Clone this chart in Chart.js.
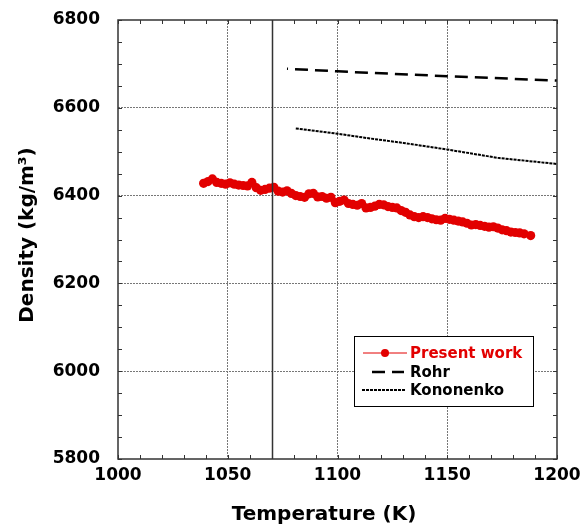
<!DOCTYPE html>
<html>
<head>
<meta charset="utf-8">
<script src="https://cdn.jsdelivr.net/npm/chart.js@4"></script>
<style>
  body { margin: 0; background: #fff; }
</style>
</head>
<body>
<canvas id="density-chart" width="582" height="530"></canvas>
<script>

// measured liquid density, K and kg/m3
const tempPresent = [1039, 1041, 1043, 1045, 1047, 1049, 1051, 1053, 1055, 1057,
                     1059, 1061, 1063, 1065, 1067, 1069, 1071, 1073, 1075, 1077,
                     1079, 1081, 1083, 1085, 1087, 1089, 1091, 1093, 1095, 1097,
                     1099, 1101, 1103, 1105, 1107, 1109, 1111, 1113, 1115, 1117,
                     1119, 1121, 1123, 1125, 1127, 1129, 1131, 1133, 1135, 1137,
                     1139, 1141, 1143, 1145, 1147, 1149, 1151, 1153, 1155, 1157,
                     1159, 1161, 1163, 1165, 1167, 1169, 1171, 1173, 1175, 1177,
                     1179, 1181, 1183, 1185, 1188];
const densPresent = [6428, 6432, 6438, 6430, 6428, 6426, 6429, 6426, 6424, 6423,
                     6422, 6430, 6418, 6412, 6414, 6417, 6419, 6410, 6408, 6411,
                     6405, 6400, 6398, 6396, 6404, 6405, 6397, 6398, 6394, 6396,
                     6384, 6387, 6390, 6382, 6380, 6378, 6382, 6372, 6373, 6376,
                     6380, 6379, 6375, 6373, 6372, 6366, 6362, 6356, 6352, 6350,
                     6352, 6350, 6347, 6345, 6344, 6348, 6346, 6344, 6342, 6340,
                     6337, 6333, 6334, 6332, 6330, 6328, 6329, 6326, 6322, 6320,
                     6317, 6316, 6315, 6313, 6309];

// literature curves
const tempRohr = [1077, 1100, 1150, 1200];
const densRohr = [6689, 6683, 6672, 6662];
const tempKono = [1081, 1100, 1115, 1130, 1150, 1173, 1200];
const densKono = [6553, 6541, 6530, 6520, 6505, 6486, 6472];

const xTickLabels = [1000, 1050, 1100, 1150, 1200];
const yTickLabels = [5800, 6000, 6200, 6400, 6600, 6800];
const meltLine = 1070;   // solid vertical marker

const FONT = "'DejaVu Sans', sans-serif";
const RED = "rgb(226, 0, 0)";

function pairs(xs, ys) {
  return xs.map((x, i) => ({ x: x, y: ys[i] }));
}

function gridColor(labels) {
  return ctx => {
    const v = ctx.tick && ctx.tick.value;
    if (labels.indexOf(v) < 0 || v === labels[0] || v === labels[labels.length - 1]) return "rgba(0,0,0,0)";
    return "#777";
  };
}

// keep the plot box fixed: no extra room for overhanging tick labels
function fixSize(prop, size) {
  return s => {
    s[prop] = size;
    s.paddingTop = s.paddingBottom = s.paddingLeft = s.paddingRight = 0;
  };
}

// frame, inward ticks, the 1070 K line, axis titles and the legend box
const decorPlugin = {
  id: "decor",
  afterDraw(chart) {
    const { ctx, chartArea: a, scales } = chart;
    const xs = scales.x, ys = scales.y;
    ctx.save();

    const lx = Math.round(xs.getPixelForValue(meltLine)) + 0.5;
    ctx.strokeStyle = "#333";
    ctx.lineWidth = 1.5;
    ctx.beginPath();
    ctx.moveTo(lx, a.top);
    ctx.lineTo(lx, a.bottom);
    ctx.stroke();

    ctx.strokeRect(a.left, a.top, a.right - a.left, a.bottom - a.top);

    ctx.lineWidth = 1;
    ctx.beginPath();
    xs.ticks.forEach(t => {
      const px = Math.round(xs.getPixelForValue(t.value)) + 0.5;
      ctx.moveTo(px, a.bottom); ctx.lineTo(px, a.bottom - 4);
      ctx.moveTo(px, a.top); ctx.lineTo(px, a.top + 4);
    });
    ys.ticks.forEach(t => {
      const py = Math.round(ys.getPixelForValue(t.value)) + 0.5;
      ctx.moveTo(a.left, py); ctx.lineTo(a.left + 4, py);
      ctx.moveTo(a.right, py); ctx.lineTo(a.right - 4, py);
    });
    ctx.stroke();

    // axis titles
    ctx.fillStyle = "#000";
    ctx.font = "bold 20px " + FONT;
    ctx.textAlign = "center";
    ctx.textBaseline = "middle";
    ctx.fillText("Temperature (K)", 324, 515);
    ctx.save();
    ctx.translate(28, 235);
    ctx.rotate(-Math.PI / 2);
    ctx.fillText("Density (kg/m³)", 0, 0);
    ctx.restore();

    // legend
    const box = { x: 354.5, y: 336.5, w: 179, h: 70 };
    ctx.fillStyle = "#fff";
    ctx.fillRect(box.x, box.y, box.w, box.h);
    ctx.strokeStyle = "#000";
    ctx.lineWidth = 1;
    ctx.strokeRect(box.x, box.y, box.w, box.h);

    const rows = [353, 372, 390];
    const samples = [[363, 407], [372, 404], [362, 405]];
    ctx.font = "bold 15px " + FONT;
    ctx.textAlign = "left";
    chart.data.datasets.forEach((ds, i) => {
      const y = rows[i];
      ctx.strokeStyle = ds.borderColor;
      ctx.lineWidth = ds.borderWidth;
      ctx.setLineDash(ds.borderDash || []);
      ctx.beginPath();
      ctx.moveTo(samples[i][0], y);
      ctx.lineTo(samples[i][1], y);
      ctx.stroke();
      ctx.setLineDash([]);
      if (ds.pointRadius > 0) {
        ctx.fillStyle = ds.pointBackgroundColor;
        ctx.beginPath();
        ctx.arc((samples[i][0] + samples[i][1]) / 2, y, 4, 0, Math.PI * 2);
        ctx.fill();
      }
      ctx.fillStyle = ds.borderColor;
      ctx.fillText(ds.label, 410, y + 1);
    });

    ctx.restore();
  }
};

new Chart("density-chart", {
  type: "line",
  data: {
    datasets: [
      {
        label: "Present work",
        data: pairs(tempPresent, densPresent),
        borderColor: RED,
        backgroundColor: RED,
        pointBackgroundColor: RED,
        borderWidth: 1,
        pointRadius: 4.6,
        pointBorderWidth: 0,
        fill: false
      },
      {
        label: "Rohr",
        data: pairs(tempRohr, densRohr),
        borderColor: "#000",
        borderWidth: 2.5,
        borderDash: [13, 7],
        borderDashOffset: 12,
        pointRadius: 0,
        fill: false
      },
      {
        label: "Kononenko",
        data: pairs(tempKono, densKono),
        borderColor: "#000",
        borderWidth: 2,
        borderDash: [3, 1],
        pointRadius: 0,
        fill: false
      }
    ]
  },
  options: {
    responsive: false,
    animation: false,
    layout: { padding: { top: 20, right: 25, left: 0, bottom: 0 } },
    plugins: {
      legend: { display: false },
      tooltip: { enabled: false }
    },
    scales: {
      x: {
        type: "linear",
        min: 1000,
        max: 1200,
        afterFit: fixSize("height", 71),
        border: { display: false, dash: [2, 1] },
        grid: { color: gridColor(xTickLabels), lineWidth: 1, drawTicks: false },
        ticks: {
          stepSize: 10,
          autoSkip: false,
          maxRotation: 0,
          padding: 6,
          color: "#000",
          font: { family: FONT, size: 17, weight: "bold" },
          callback: v => xTickLabels.indexOf(v) >= 0 ? String(v) : ""
        }
      },
      y: {
        min: 5800,
        max: 6800,
        afterFit: fixSize("width", 118),
        border: { display: false, dash: [2, 1] },
        grid: { color: gridColor(yTickLabels), lineWidth: 1, drawTicks: false },
        ticks: {
          stepSize: 50,
          autoSkip: false,
          padding: 18,
          color: "#000",
          font: { family: FONT, size: 17, weight: "bold" },
          callback: v => yTickLabels.indexOf(v) >= 0 ? String(v) : ""
        }
      }
    }
  },
  plugins: [decorPlugin]
});
</script>
</body>
</html>
